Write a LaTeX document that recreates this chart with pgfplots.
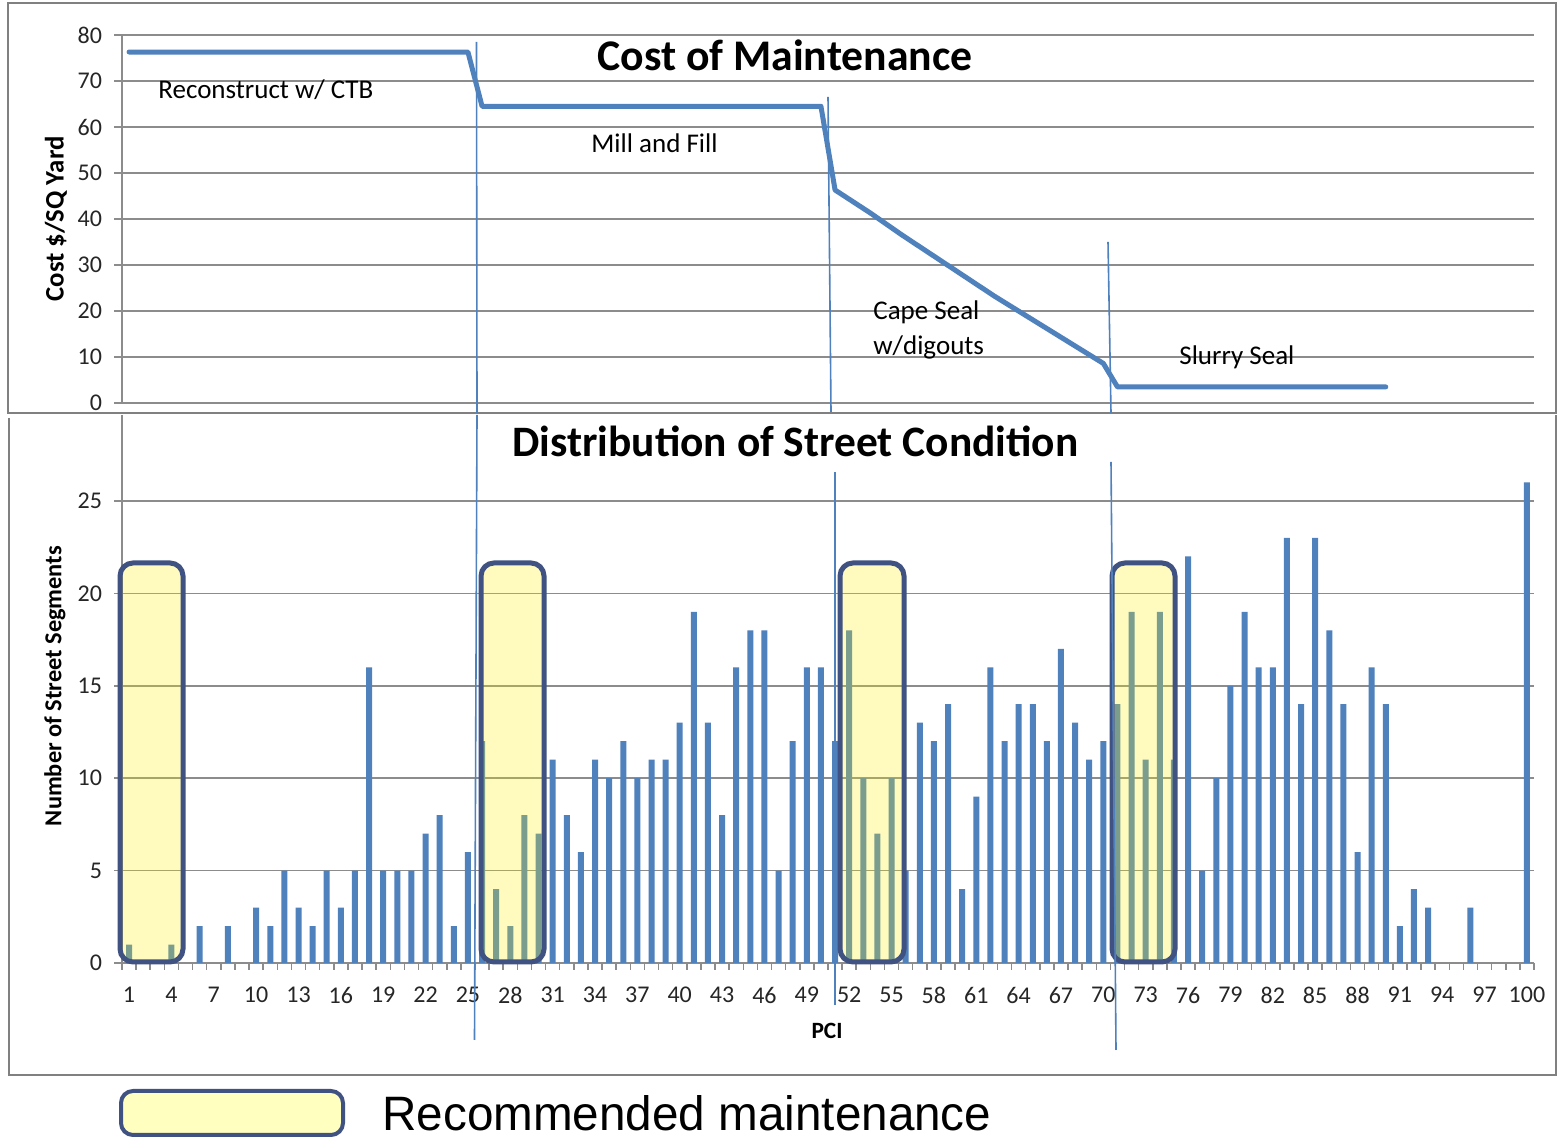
\documentclass[border=0pt]{standalone}
\usepackage{fontspec}
\setmainfont{Carlito}
\newfontfamily\arialf{Liberation Sans}
\usepackage{pgfplots}
\usepackage{pgfplotstable}
\pgfplotsset{compat=1.18}
\definecolor{barblue}{RGB}{79,129,189}
\definecolor{gridgray}{RGB}{140,140,140}
\definecolor{framegray}{RGB}{128,128,128}
\definecolor{navy}{RGB}{64,82,130}
\definecolor{lightyellow}{RGB}{255,255,192}

\pgfplotstableread{
x y
1 1
4 1
6 2
8 2
10 3
11 2
12 5
13 3
14 2
15 5
16 3
17 5
18 16
19 5
20 5
21 5
22 7
23 8
24 2
25 6
26 12
27 4
28 2
29 8
30 7
31 11
32 8
33 6
34 11
35 10
36 12
37 10
38 11
39 11
40 13
41 19
42 13
43 8
44 16
45 18
46 18
47 5
48 12
49 16
50 16
51 12
52 18
53 10
54 7
55 10
56 5
57 13
58 12
59 14
60 4
61 9
62 16
63 12
64 14
65 14
66 12
67 17
68 13
69 11
70 12
71 14
72 19
73 11
74 19
75 11
76 22
77 5
78 10
79 15
80 19
81 16
82 16
83 23
84 14
85 23
86 18
87 14
88 6
89 16
90 14
91 2
92 4
93 3
96 3
100 26
}\distdata

\pgfplotstableread{
x y
1 76.3
25 76.3
26 64.5
50 64.5
51 46.3
53.5 41.3
55.7 36.6
59.1 29.7
62.3 23.2
70 8.6
71 3.5
90 3.5
}\costdata

\begin{document}
\begin{tikzpicture}
\path[use as bounding box] (0,0) rectangle (779pt,569.5pt);
\fill[white] (0,0) rectangle (779pt,569.5pt);

% ---------- bottom chart ----------
\begin{axis}[
  at={(61pt,88pt)}, anchor=south west,
  scale only axis, width=706pt, height=274pt,
  xmin=0.5, xmax=100.5, ymin=0, ymax=29.65,
  axis lines=left,
  axis line style={-, draw=gridgray, line width=0.75pt},
  ytick={0,5,...,25}, ymajorgrids,
  grid style={draw=gridgray, line width=0.75pt},
  xtick={1,4,...,100}, minor xtick={0.5,1.5,...,100.5},
  tick align=outside, major tick length=4pt, minor tick length=3.5pt,
  major x tick style={draw=none},
  minor x tick style={draw=gridgray, line width=0.75pt},
  y tick style={draw=gridgray, line width=0.75pt},
  ticklabel style={font=\fontsize{12}{14}\selectfont, text=black!85},
  /pgf/number format/assume math mode=true,
  xticklabel style={yshift=-4.5pt},
  yticklabel style={xshift=-2.5pt},
  clip=false,
]
\addplot[ybar, bar width=3pt, fill=barblue, draw=none] table[x=x,y=y] {\distdata};
\end{axis}

% ---------- top chart ----------
\begin{axis}[
  at={(61pt,368pt)}, anchor=south west,
  scale only axis, width=706pt, height=184pt,
  xmin=0.5, xmax=100.5, ymin=0, ymax=80,
  axis x line=none, axis y line=left,
  axis line style={-, draw=gridgray, line width=0.75pt},
  ytick={0,10,...,80}, ymajorgrids,
  grid style={draw=gridgray, line width=0.75pt},
  xtick=\empty,
  tick align=outside, major tick length=4pt,
  y tick style={draw=gridgray, line width=0.75pt},
  ticklabel style={font=\fontsize{12}{14}\selectfont, text=black!85},
  /pgf/number format/assume math mode=true,
  yticklabel style={xshift=-2.5pt},
  clip=false,
]
\addplot[barblue, line width=2.5pt, line join=round, line cap=round] table[x=x,y=y] {\costdata};
\end{axis}

% ---------- annotations in pixel coordinates ----------
\begin{scope}[x=0.5pt,y=-0.5pt,yshift=569.5pt]
\draw[framegray, line width=1.2pt] (8,3) rectangle (1556,413);
\draw[framegray, line width=1.2pt] (9,418) -- (9,1075) -- (1556,1075) -- (1556,415);

\foreach \a/\b in {120/183, 481/544, 840/904, 1112/1175}{
  \draw[navy, line width=2.5pt, rounded corners=6.5pt, fill=yellow, fill opacity=0.25, draw opacity=1] (\a,563) rectangle (\b,962);
}

\draw[barblue, line width=0.8pt] (476.5,42) -- (477,413);
\draw[barblue, line width=0.8pt] (477,415) -- (474.5,1040);
\draw[barblue, line width=0.8pt] (828,97) -- (831,412);
\draw[barblue, line width=0.8pt] (835,472) -- (835,1005);
\draw[barblue, line width=0.8pt] (1108,242) -- (1111,413);
\draw[barblue, line width=0.8pt] (1111,462) -- (1116,1050);

\node[anchor=base west, inner sep=0, font=\fontsize{13.5}{16}\selectfont] at (158,99) {Reconstruct w/ CTB};
\node[anchor=base west, inner sep=0, font=\fontsize{13.5}{16}\selectfont] at (591,153) {Mill and Fill};
\node[anchor=base west, inner sep=0, font=\fontsize{13.5}{16}\selectfont] at (873,320) {Cape Seal};
\node[anchor=base west, inner sep=0, font=\fontsize{13.5}{16}\selectfont] at (873,355) {w/digouts};
\node[anchor=base west, inner sep=0, font=\fontsize{13.5}{16}\selectfont] at (1179,365) {Slurry Seal};

\node[anchor=base west, inner sep=0] at (597,71) {\resizebox{187.5pt}{!}{\fontsize{22}{26}\selectfont\bfseries Cost of Maintenance}};
\node[anchor=base west, inner sep=0] at (512,457) {\resizebox{283pt}{!}{\fontsize{22}{26}\selectfont\bfseries Distribution of Street Condition}};

\node[rotate=90, inner sep=0] at (56,219) {\resizebox{82.5pt}{!}{\fontsize{11}{13}\selectfont\bfseries Cost \$/SQ Yard}};
\node[rotate=90, inner sep=0] at (55,686) {\resizebox{140pt}{!}{\fontsize{11}{13}\selectfont\bfseries Number of Street Segments}};
\node[inner sep=0] at (827,1031) {\resizebox{15.5pt}{!}{\fontsize{11}{13}\selectfont\bfseries PCI}};

\draw[navy, line width=2pt, rounded corners=6pt, fill=lightyellow] (121,1091) rectangle (343,1135);
\node[anchor=base west, inner sep=0] at (382,1131) {\resizebox{304.5pt}{17.5pt}{\arialf Recommended maintenance}};
\end{scope}
\end{tikzpicture}
\end{document}
